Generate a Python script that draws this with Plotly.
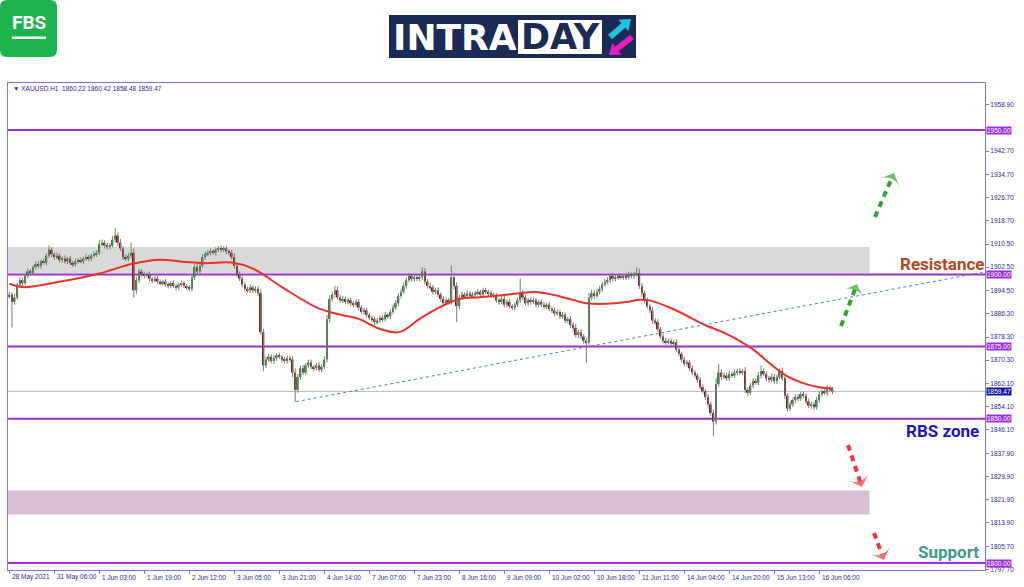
import plotly.graph_objects as go

# ---------------- data ----------------
first_open = 1892.5
closes = [
    1893.0,1890.5,1892.0,1896.5,1898.0,1897.0,1899.5,1901.0,1900.5,1902.5,
    1903.5,1903.0,1904.5,1904.0,1906.5,1908.5,1907.0,1906.0,1906.5,1905.0,
    1905.5,1904.5,1905.5,1904.0,1903.5,1904.5,1905.0,1904.5,1905.5,1906.0,
    1905.5,1906.5,1907.0,1907.5,1910.5,1911.0,1910.0,1909.5,1910.0,1912.0,
    1913.5,1911.0,1909.0,1906.0,1905.5,1906.5,1907.5,1894.5,1898.0,1901.0,
    1900.0,1899.5,1900.0,1898.5,1898.0,1898.5,1897.5,1897.0,1897.5,1896.5,
    1896.0,1897.0,1896.0,1895.5,1896.5,1897.0,1896.0,1895.5,1895.0,1899.0,
    1902.5,1901.0,1903.0,1906.0,1907.0,1907.5,1908.0,1907.5,1908.5,1909.0,
    1908.5,1909.0,1908.0,1907.5,1906.0,1903.0,1900.0,1898.5,1896.5,1895.0,
    1894.5,1895.5,1894.5,1895.0,1893.5,1880.0,1868.5,1870.5,1871.5,1870.0,
    1871.0,1872.0,1871.5,1870.5,1870.0,1871.0,1870.5,1866.0,1860.0,1864.5,
    1867.5,1866.0,1868.5,1869.5,1868.0,1867.5,1868.5,1867.0,1868.0,1870.5,
    1884.5,1891.5,1893.0,1894.5,1892.0,1891.0,1891.5,1890.5,1891.0,1890.0,
    1889.5,1890.5,1888.5,1887.0,1887.5,1886.0,1885.0,1884.5,1883.5,1884.0,
    1885.0,1884.5,1886.0,1885.5,1887.0,1888.5,1890.0,1892.5,1894.0,1896.0,
    1898.0,1899.5,1898.5,1899.0,1898.5,1899.0,1901.0,1897.5,1896.0,1895.5,
    1894.0,1894.5,1893.0,1891.5,1890.0,1891.0,1890.5,1899.0,1896.0,1889.0,
    1892.0,1893.0,1892.5,1893.5,1892.5,1893.0,1893.5,1894.0,1893.0,1894.5,
    1894.0,1893.5,1893.0,1892.5,1891.0,1890.5,1891.5,1889.5,1890.5,1889.0,
    1888.5,1889.5,1891.0,1893.5,1892.0,1890.0,1891.0,1890.5,1891.0,1889.5,
    1890.5,1889.5,1889.0,1889.5,1888.0,1887.5,1886.5,1887.0,1885.5,1886.0,
    1884.0,1884.5,1882.5,1881.5,1879.0,1880.0,1878.5,1877.0,1876.5,1892.0,
    1893.5,1892.5,1894.0,1895.0,1896.5,1897.5,1898.0,1899.5,1898.5,1899.0,
    1899.5,1899.0,1899.5,1899.0,1900.0,1899.5,1900.0,1900.5,1896.0,1893.5,
    1891.0,1889.0,1887.5,1884.0,1883.5,1881.0,1878.5,1877.0,1876.5,1877.0,
    1876.0,1876.5,1874.0,1872.5,1870.5,1869.0,1869.5,1867.5,1866.0,1865.0,
    1863.5,1861.0,1859.5,1857.5,1855.0,1852.0,1849.0,1862.0,1866.0,1864.5,
    1865.0,1864.0,1865.5,1865.0,1866.0,1866.5,1866.0,1866.5,1860.0,1859.0,
    1861.5,1863.0,1862.5,1865.0,1866.5,1865.5,1864.0,1863.5,1864.5,1863.0,
    1864.5,1866.5,1864.0,1858.0,1853.5,1855.0,1856.5,1857.5,1857.0,1858.5,
    1858.0,1856.0,1854.5,1855.0,1854.0,1856.5,1858.5,1859.5,1859.0,1860.5,
    1860.2,1859.47,
]
upper_wick = [
    1.0,0.8,1.2,0.6,1.0,0.9,0.7,1.1,0.8,0.6, 0.9,1.2,0.7,1.0,0.8,1.5,0.9,0.6,1.0,0.8,
    0.7,1.1,0.6,0.9,0.8,1.0,0.7,0.9,0.6,1.2, 0.8,0.7,1.0,0.9,1.4,1.1,0.8,1.0,0.9,1.3,
    2.5,1.0,1.2,0.8,0.9,1.0,3.5,1.5,1.2,0.9, 0.8,1.0,0.7,0.9,0.6,0.8,1.0,0.7,0.6,0.9,
    0.8,0.7,1.0,0.6,0.8,0.9,0.7,0.6,0.8,1.2, 1.0,1.3,0.9,1.1,0.8,0.9,1.0,0.7,0.9,0.8,
    1.0,0.7,0.9,0.8,1.0,1.2,0.9,1.0,0.8,0.9, 0.7,1.0,0.8,0.9,1.0,1.5,1.2,1.0,0.9,0.8,
    1.0,0.8,0.9,0.7,1.0,0.8,0.9,1.2,1.5,1.0, 0.9,1.1,0.8,0.9,1.0,0.7,0.8,1.0,0.9,1.2,
    1.5,1.3,1.0,1.5,1.2,0.9,1.0,0.8,0.9,1.0, 0.8,0.9,1.0,0.8,0.9,1.0,0.7,0.8,0.9,1.0,
    0.8,0.9,1.0,0.7,0.9,1.0,1.1,0.9,1.0,1.2, 0.9,1.0,0.8,0.9,1.0,0.8,1.5,1.2,0.9,1.0,
    0.8,0.9,1.0,0.8,0.9,1.0,0.8,4.0,1.5,1.2, 1.0,0.9,0.8,1.0,0.7,0.9,0.8,1.0,0.7,0.9,
    0.8,0.7,0.9,0.8,1.0,0.8,0.9,1.0,0.8,0.9, 0.7,0.8,1.0,5.0,1.2,0.9,0.8,1.0,0.9,0.8,
    0.9,0.8,1.0,0.7,0.9,0.8,1.0,0.9,0.8,1.0, 0.9,0.8,1.0,0.9,1.2,0.8,1.0,0.9,1.0,1.5,
    1.2,1.0,0.9,1.1,1.0,0.9,1.0,0.8,0.9,0.7, 0.8,0.9,0.7,0.8,0.9,0.7,0.8,2.0,1.5,1.0,
    0.9,1.0,0.8,1.2,0.9,1.0,0.8,0.9,1.0,0.8, 0.9,0.7,1.0,0.9,0.8,1.0,0.9,0.8,1.0,0.9,
    0.8,1.0,0.9,0.8,1.0,0.9,1.2,2.0,3.0,1.2, 1.0,0.9,1.1,0.8,1.0,0.9,1.0,0.8,1.5,1.0,
    0.9,1.0,0.8,1.2,2.0,1.0,0.9,0.8,1.0,0.9, 0.8,1.0,1.2,1.0,0.9,1.0,0.8,0.9,1.0,0.8,
    0.9,0.8,1.0,0.9,0.8,1.0,0.9,1.0,0.8,1.0, 0.9,0.8,
]
lower_wick = [
    0.8,8.9,1.0,0.9,0.7,1.0,0.8,0.9,1.0,0.7, 0.8,0.9,1.0,0.7,0.9,0.8,1.0,0.9,0.7,0.8,
    1.0,0.8,0.9,0.7,1.0,0.8,0.9,0.7,1.0,0.8, 0.9,0.8,0.7,1.0,0.8,0.9,1.0,0.8,0.9,0.7,
    1.0,1.2,0.9,1.0,0.8,0.9,1.0,2.5,1.2,0.9, 0.8,1.0,0.7,0.9,1.0,0.8,0.9,0.7,1.0,0.8,
    0.9,0.8,0.7,1.0,0.8,0.9,0.7,1.0,0.8,0.9, 1.0,0.8,0.9,0.7,1.0,0.8,0.9,0.7,1.0,0.8,
    0.9,0.8,1.0,0.9,0.8,1.0,0.9,0.8,1.0,0.9, 0.8,1.0,0.9,0.8,1.0,1.0,2.0,1.0,0.9,0.8,
    1.0,0.9,0.8,1.0,0.9,0.8,1.0,1.5,4.2,1.0, 0.9,0.8,1.0,0.9,0.8,1.0,0.9,0.8,1.0,0.9,
    1.0,1.2,0.9,1.0,0.8,0.9,1.0,0.8,0.9,1.0, 0.8,0.9,1.0,0.8,0.9,1.0,0.8,0.9,1.0,0.8,
    0.9,1.0,0.8,0.9,1.0,0.8,0.9,1.0,0.8,0.9, 1.0,0.8,0.9,1.0,0.8,0.9,1.0,1.0,0.9,0.8,
    1.0,0.9,0.8,1.0,0.9,0.8,1.0,1.0,1.2,5.5, 1.0,0.8,0.9,1.0,0.8,0.9,1.0,0.8,0.9,1.0,
    0.8,0.9,1.0,0.8,0.9,1.0,0.8,0.9,1.0,0.8, 0.9,1.0,0.8,0.9,1.0,0.8,0.9,1.0,0.8,0.9,
    1.0,0.8,0.9,1.0,0.8,0.9,1.0,0.8,0.9,1.0, 0.8,0.9,1.0,1.2,0.9,1.0,0.8,1.0,7.0,1.0,
    0.9,1.0,0.8,0.9,1.0,0.8,0.9,1.0,0.8,0.9, 1.0,0.8,0.9,1.0,0.8,0.9,1.0,0.8,1.0,1.2,
    1.0,0.9,1.0,1.2,0.9,1.0,0.8,0.9,1.0,0.8, 0.9,1.0,0.8,0.9,1.0,0.8,0.9,1.0,0.8,0.9,
    1.0,0.9,0.8,1.0,1.2,1.0,5.0,1.0,0.9,1.0, 0.8,0.9,1.0,0.8,0.9,1.0,0.8,0.9,1.0,1.2,
    0.9,1.0,0.8,0.9,1.0,0.8,0.9,1.0,0.8,0.9, 1.0,0.8,0.9,1.2,1.0,0.9,0.8,1.0,0.9,0.8,
    1.0,0.9,0.8,1.0,0.9,0.8,1.0,0.9,0.8,1.0, 0.9,1.0,
]

# moving average, read at sample bars
ma_index = [0, 5, 21.5, 34, 46.5, 56.7, 66.8, 74.4, 84, 92, 103, 116, 124.7, 132, 140,
            147.3, 155, 162.5, 170, 177.6, 185, 192.7, 199, 205, 212.7, 218, 225.5, 233,
            238, 241.8, 250.5, 263.3, 270.9, 280.7, 288.3, 294.7, 301, 306, 311]
ma_value = [1896.8, 1895.6, 1897.9, 1900.3, 1903.7, 1905.1, 1904.3, 1903.9, 1904.1, 1902.0,
            1895.6, 1888.6, 1886.1, 1884.6, 1881.1, 1880.0, 1884.6, 1888.6, 1891.5, 1892.1,
            1892.7, 1893.5, 1893.9, 1893.0, 1891.2, 1890.0, 1889.8, 1890.4, 1891.2, 1891.0,
            1888.1, 1882.3, 1879.4, 1874.2, 1868.4, 1864.3, 1862.0, 1860.9, 1860.5]

x_tick_index = [0, 17, 34, 51, 68, 85, 102, 119, 136, 153, 170, 187, 204, 221, 238, 255, 272, 289, 306]
x_tick_labels = ["28 May 2021", "31 May 06:00", "1 Jun 03:00", "1 Jun 19:00", "2 Jun 12:00",
                 "3 Jun 05:00", "3 Jun 21:00", "4 Jun 14:00", "7 Jun 07:00", "7 Jun 23:00",
                 "8 Jun 16:00", "9 Jun 09:00", "10 Jun 02:00", "10 Jun 18:00", "11 Jun 11:00",
                 "14 Jun 04:00", "14 Jun 20:00", "15 Jun 13:00", "16 Jun 06:00"]

y_tick_values = [1958.9, 1942.7, 1934.7, 1926.7, 1918.7, 1910.5, 1902.5, 1894.5, 1886.3,
                 1878.3, 1870.3, 1862.1, 1854.1, 1846.1, 1837.9, 1829.9, 1821.9, 1813.9,
                 1805.7, 1797.7]
level_values = [1950.0, 1900.0, 1875.0, 1850.0, 1800.0]
last_price = 1859.47
header_text = "\u25BC XAUUSD,H1  1860.22 1860.42 1858.48 1859.47"
resistance_zone = [1900.5, 1909.5]
support_zone = [1816.8, 1825.1]
zone_end_index = 325
trend_index = [108.3, 368.6]
trend_value = [1855.9, 1900.9]

# ---------------- geometry ----------------
W, H = 1024, 587
PL, PR, PT, PB = 8, 985, 83, 570
X0, X1 = -0.5, 368.6
Y0, Y1 = 1797.6, 1966.3


def px2x(px):
    return X0 + (px - PL) / (PR - PL) * (X1 - X0)


def py2y(py):
    return Y1 - (py - PT) / (PB - PT) * (Y1 - Y0)


def ppx(px):
    return (px - PL) / (PR - PL)


def ppy(py):
    return (PB - py) / (PB - PT)


# ---------------- build candles ----------------
n = len(closes)
idx = list(range(n))
opens = [first_open] + closes[:-1]
highs = [max(o, c) + u for o, c, u in zip(opens, closes, upper_wick)]
lows = [min(o, c) - d for o, c, d in zip(opens, closes, lower_wick)]

UP = "#2f8a34"
DOWN = "#7d1c1c"
WICK = "#7a7a7a"
PURPLE = "#9b30d9"
FRAME = "#7c74e4"
TXT = "#2b2b8f"
NAVY = "#1b2b55"

fig = go.Figure()

wx, wy = [], []
for i, h, l in zip(idx, highs, lows):
    wx += [i, i, None]
    wy += [l, h, None]
fig.add_trace(go.Scatter(x=wx, y=wy, mode="lines", line=dict(color=WICK, width=1),
                         hoverinfo="skip"))

fig.add_trace(go.Bar(
    x=idx,
    base=[min(o, c) for o, c in zip(opens, closes)],
    y=[max(abs(c - o), 0.3) for o, c in zip(opens, closes)],
    marker=dict(color=[UP if c >= o else DOWN for o, c in zip(opens, closes)], line=dict(width=0)),
    width=0.66,
))

# moving average
fig.add_trace(go.Scatter(x=ma_index, y=ma_value, mode="lines",
                         line=dict(color="#e8322b", width=2, shape="spline", smoothing=1.0),
                         hoverinfo="skip"))

# trend line
fig.add_trace(go.Scatter(x=trend_index, y=trend_value, mode="lines",
                         line=dict(color="#3f86ad", width=1, dash="dot"), hoverinfo="skip"))

# dashed arrows (pixel positions of tail and tip)
arrows = [
    ((841, 326), (857, 284), "#36a236"),
    ((875, 217), (894, 173), "#36a236"),
    ((848, 445), (862, 487), "#e8383a"),
    ((874, 533), (884, 560), "#e8383a"),
]
for (tx, ty), (hx, hy), col in arrows:
    fig.add_trace(go.Scatter(
        x=[px2x(tx), px2x(hx)], y=[py2y(ty), py2y(hy)], mode="lines+markers",
        line=dict(color=col, width=4, dash="6px,5px"),
        marker=dict(symbol="arrow-wide", size=[0, 15], color=col, angleref="previous",
                    line=dict(width=0)),
        hoverinfo="skip"))

shapes = []
# zones
shapes.append(dict(type="rect", xref="x", yref="y", x0=X0, x1=zone_end_index,
                   y0=resistance_zone[0], y1=resistance_zone[1], fillcolor="#d9d9d9",
                   line=dict(width=0), layer="below"))
shapes.append(dict(type="rect", xref="x", yref="y", x0=X0, x1=zone_end_index,
                   y0=support_zone[0], y1=support_zone[1], fillcolor="#d7c0d8",
                   line=dict(width=0), layer="below"))
# current price line
shapes.append(dict(type="line", xref="paper", yref="y", x0=0, x1=1, y0=last_price, y1=last_price,
                   line=dict(color="#b8b8b8", width=1), layer="below"))
# levels
for v in level_values:
    shapes.append(dict(type="line", xref="paper", yref="y", x0=0, x1=1, y0=v, y1=v,
                       line=dict(color=PURPLE, width=2), layer="below"))

# FBS logo (rounded green square)
x0, x1, y0, y1 = ppx(0), ppx(57), ppy(57), ppy(0)
rx, ry = 7 / (PR - PL), 7 / (PB - PT)
path = (f"M{x0+rx},{y1} L{x1-rx},{y1} Q{x1},{y1} {x1},{y1-ry} L{x1},{y0+ry} Q{x1},{y0} {x1-rx},{y0} "
        f"L{x0+rx},{y0} Q{x0},{y0} {x0},{y0+ry} L{x0},{y1-ry} Q{x0},{y1} {x0+rx},{y1} Z")
shapes.append(dict(type="path", xref="paper", yref="paper", path=path, fillcolor="#1db34e",
                   line=dict(width=0)))
shapes.append(dict(type="rect", xref="paper", yref="paper", x0=ppx(12), x1=ppx(46), y0=ppy(39), y1=ppy(36.5),
                   fillcolor="white", line=dict(width=0)))
# INTRADAY logo
shapes.append(dict(type="rect", xref="paper", yref="paper", x0=ppx(389), x1=ppx(636), y0=ppy(58), y1=ppy(15),
                   fillcolor=NAVY, line=dict(width=0)))
shapes.append(dict(type="rect", xref="paper", yref="paper", x0=ppx(518), x1=ppx(602), y0=ppy(54), y1=ppy(20),
                   fillcolor="white", line=dict(width=0)))


def logo_arrow(tail, tip, color, head_len=10, head_half=7.5, shaft=6):
    (tx, ty), (hx, hy) = tail, tip
    dx, dy = hx - tx, hy - ty
    ln = (dx * dx + dy * dy) ** 0.5
    ux, uy = dx / ln, dy / ln
    bx, by = hx - head_len * ux, hy - head_len * uy
    qx, qy = -uy, ux
    p1 = (bx + head_half * qx, by + head_half * qy)
    p2 = (bx - head_half * qx, by - head_half * qy)
    out = [dict(type="line", xref="paper", yref="paper", x0=ppx(tx), y0=ppy(ty),
                x1=ppx(bx + 1.5 * ux), y1=ppy(by + 1.5 * uy), line=dict(color=color, width=shaft))]
    tri = (f"M{ppx(hx)},{ppy(hy)} L{ppx(p1[0])},{ppy(p1[1])} L{ppx(p2[0])},{ppy(p2[1])} Z")
    out.append(dict(type="path", xref="paper", yref="paper", path=tri, fillcolor=color,
                    line=dict(width=0)))
    return out


shapes += logo_arrow((610, 37), (631, 19), "#1fc4d6")
shapes += logo_arrow((632, 37), (609, 55), "#e01fbf")

annotations = []
for i, lab in zip(x_tick_index, x_tick_labels):
    annotations.append(dict(x=i, xref="x", y=ppy(577), yref="paper", text=lab, showarrow=False,
                            xanchor="left", yanchor="middle", xshift=1,
                            font=dict(size=6.5, color=TXT, family="Liberation Sans")))
for v in level_values:
    annotations.append(dict(x=1, xref="paper", y=v, yref="y", text=f"{v:.2f}", showarrow=False,
                            xanchor="left", yanchor="middle", xshift=1, bgcolor=PURPLE, borderpad=0,
                            font=dict(size=6.5, color="white", family="Liberation Sans")))
annotations.append(dict(x=1, xref="paper", y=last_price, yref="y", text=f"{last_price:.2f}", showarrow=False,
                        xanchor="left", yanchor="middle", xshift=1, bgcolor="#12129e", borderpad=0,
                        font=dict(size=6.5, color="white", family="Liberation Sans")))
annotations.append(dict(x=ppx(11), xref="paper", y=ppy(89), yref="paper", text=header_text, showarrow=False,
                        xanchor="left", yanchor="middle", font=dict(size=6.5, color=TXT, family="Liberation Sans")))
annotations.append(dict(x=1, xref="paper", y=py2y(264), yref="y", text="<b>Resistance</b>", showarrow=False,
                        xanchor="right", yanchor="middle", xshift=1,
                        font=dict(size=17, color="#b5461c", family="Roboto")))
annotations.append(dict(x=ppx(981), xref="paper", y=py2y(431), yref="y", text="<b>RBS zone</b>", showarrow=False,
                        xanchor="right", yanchor="middle", font=dict(size=17, color="#1717c9", family="Roboto")))
annotations.append(dict(x=ppx(981), xref="paper", y=py2y(552), yref="y", text="<b>Support</b>", showarrow=False,
                        xanchor="right", yanchor="middle", font=dict(size=17, color="#3b9a8b", family="Roboto")))
# logos text
annotations.append(dict(x=ppx(29), xref="paper", y=ppy(23), yref="paper", text="<b>FBS</b>", showarrow=False,
                        xanchor="center", yanchor="middle", font=dict(size=19, color="white", family="Roboto")))
annotations.append(dict(x=ppx(455), xref="paper", y=ppy(37), yref="paper", text="<b>INTRA</b>", showarrow=False,
                        xanchor="center", yanchor="middle", font=dict(size=36, color="white", family="DejaVu Sans")))
annotations.append(dict(x=ppx(560), xref="paper", y=ppy(37), yref="paper", text="<b>DAY</b>", showarrow=False,
                        xanchor="center", yanchor="middle", font=dict(size=35, color=NAVY, family="DejaVu Sans")))

fig.update_layout(
    width=W, height=H,
    margin=dict(l=PL, r=W - PR, t=PT, b=H - PB),
    paper_bgcolor="white", plot_bgcolor="white",
    showlegend=False, barmode="overlay",
    shapes=shapes, annotations=annotations,
    xaxis=dict(range=[X0, X1], showgrid=False, zeroline=False, showline=True, mirror=True,
               linecolor=FRAME, linewidth=1, ticks="outside", ticklen=3, tickcolor=FRAME,
               tickvals=x_tick_index, showticklabels=False, fixedrange=True),
    yaxis=dict(range=[Y0, Y1], side="right", showgrid=False, zeroline=False, showline=True, mirror=True,
               linecolor=FRAME, linewidth=1, ticks="outside", ticklen=3, tickcolor=FRAME,
               tickvals=y_tick_values, ticktext=[f"{v:.2f}" for v in y_tick_values],
               tickfont=dict(size=6.5, color=TXT, family="Liberation Sans"), fixedrange=True),
)

fig.write_html("out.html", config={"displayModeBar": False},
               post_script="document.body.style.margin='0';document.body.style.overflow='hidden';")
